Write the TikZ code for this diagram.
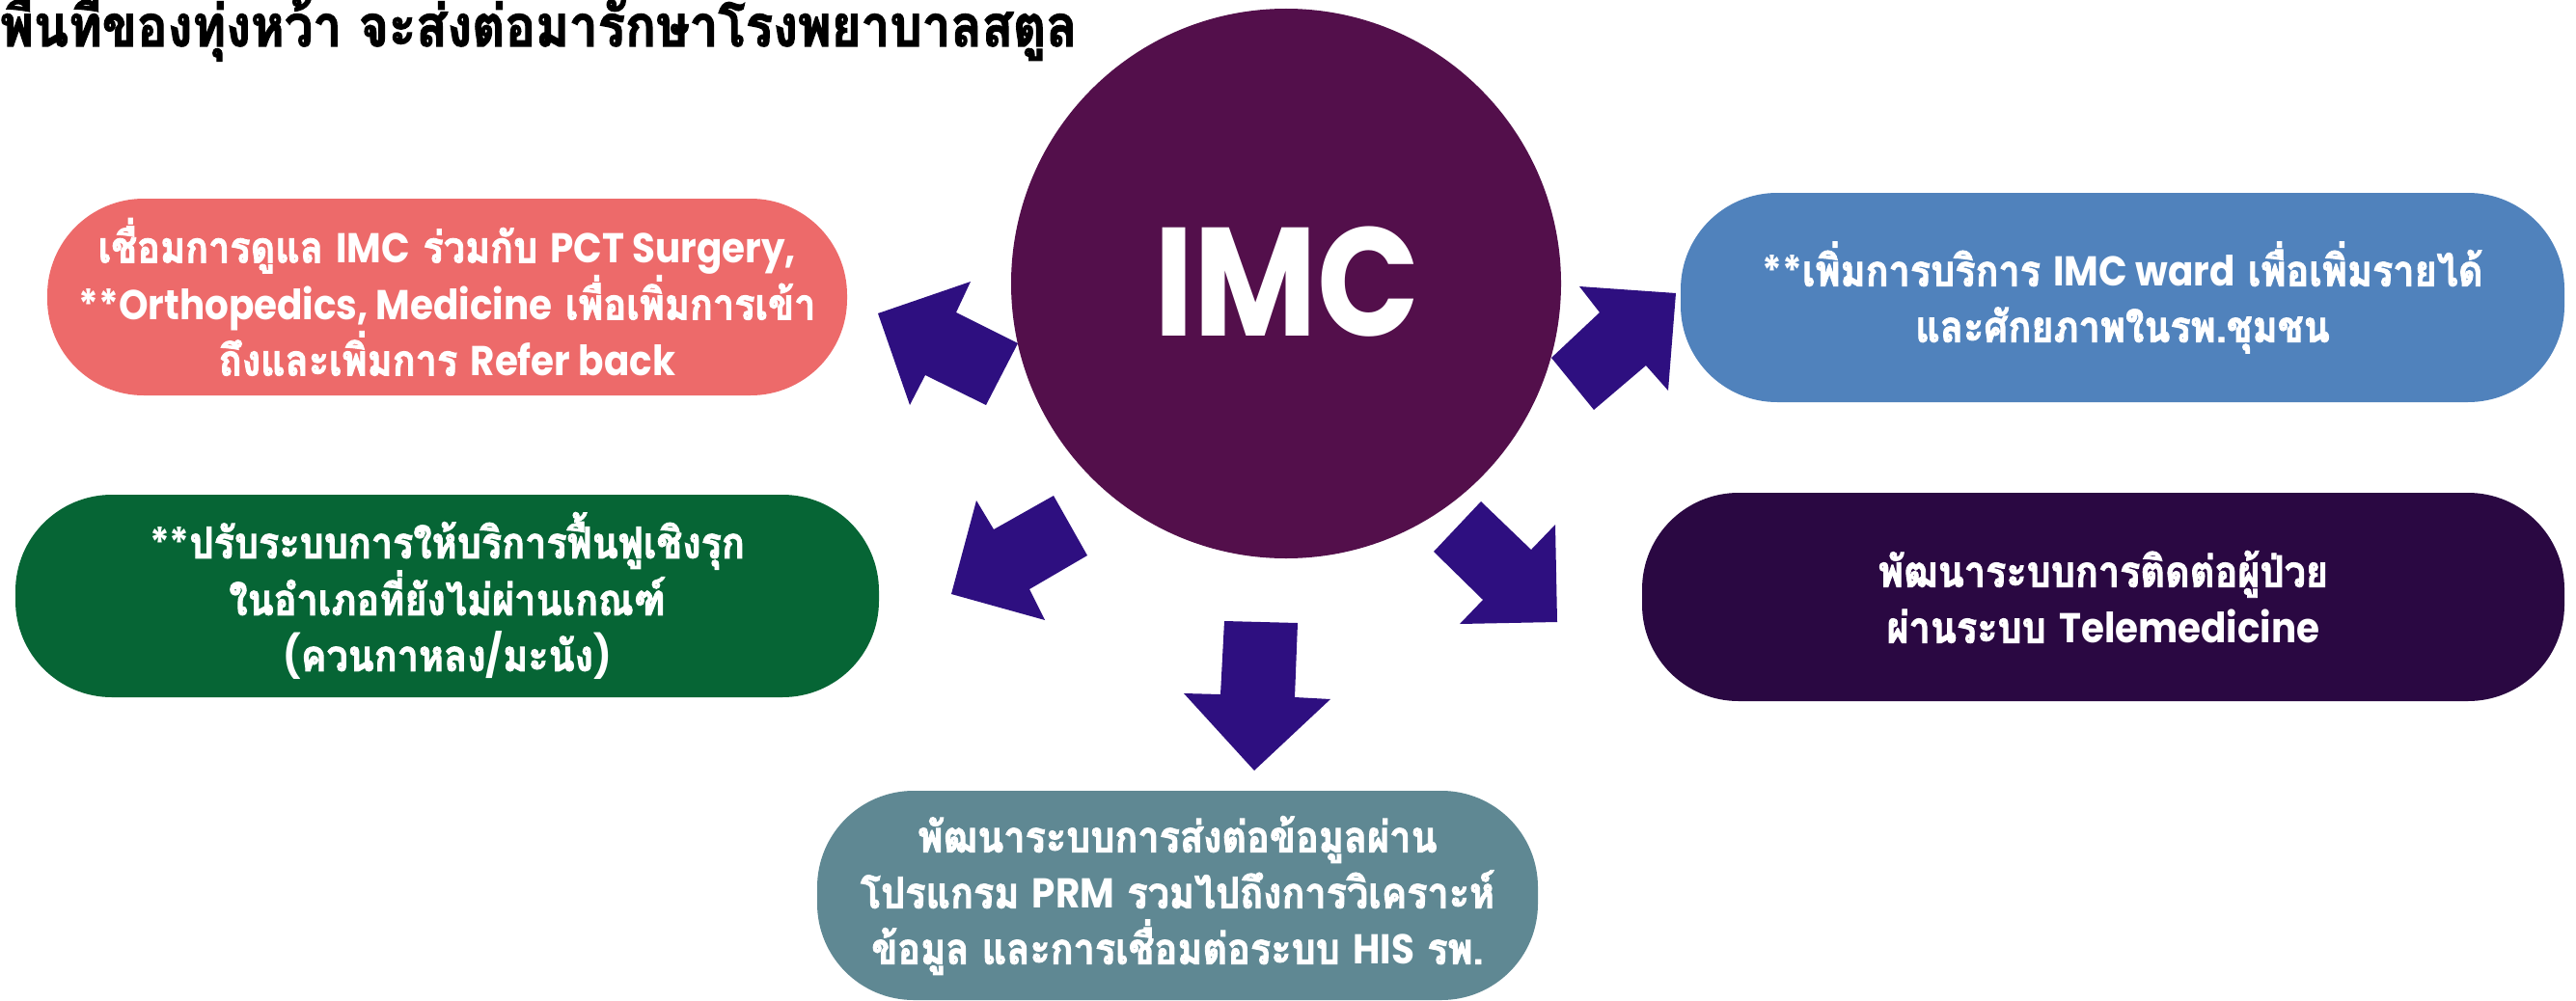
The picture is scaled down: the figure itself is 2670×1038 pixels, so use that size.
\documentclass[tikz,border=0pt]{standalone}
\usepackage{fontspec}
\setmainfont[Script=Thai, FakeStretch=0.88, BoldFeatures={FakeBold=2}]{Loma}
\newfontfamily\latf{Poppins}[UprightFont=* Bold, BoldFont=* Bold, Scale=0.96, FakeStretch=0.9]
\newfontfamily\imcf{Poppins}[UprightFont=* Bold, BoldFont=* Bold]
\newcommand\latn[1]{{\latf #1}}
\definecolor{circc}{RGB}{83,15,75}
\definecolor{arrc}{RGB}{46,15,128}
\definecolor{pinkc}{RGB}{237,106,106}
\definecolor{bluec}{RGB}{80,130,188}
\definecolor{greenc}{RGB}{6,101,53}
\definecolor{darkc}{RGB}{42,8,66}
\definecolor{tealc}{RGB}{95,136,147}
\begin{document}
\begin{tikzpicture}[x=1pt,y=-1pt,
  pill/.style={rectangle, rounded corners=100pt, inner sep=0pt, text=white, align=center,
    font=\bfseries\fontsize{45}{58}\selectfont},
  blockarrow/.style={fill=arrc}]
\path[use as bounding box, fill=white] (0,0) rectangle (2670,1038);

\node[anchor=base west, inner sep=0pt, font=\bfseries\fontsize{60}{64}\selectfont] (title) at (0,48)
  {พื้นที่ของทุ่งหว้า จะส่งต่อมารักษาโรงพยาบาลสตูล};

\node[circle, fill=circc, minimum size=570pt, inner sep=0pt] (imc) at (1333,294) {};
\node[text=white, font=\imcf\fontsize{160}{160}\selectfont, xscale=0.87, inner sep=0pt] (imct) at (1334,292) {IMC};

\node[pill, fill=pinkc, minimum width=829pt, minimum height=204pt] (pink) at (463.5,308)
  {เชื่อมการดูแล \latn{IMC} ร่วมกับ \latn{PCT Surgery,}\\ \latn{**Orthopedics, Medicine} เพื่อเพิ่มการเข้า\\ ถึงและเพิ่มการ \latn{Refer back}};
\node[pill, fill=bluec, minimum width=916pt, minimum height=217pt] (blue) at (2200,308.5)
  {\latn{**}เพิ่มการบริการ \latn{IMC ward} เพื่อเพิ่มรายได้\\ และศักยภาพในรพ.ชุมชน};
\node[pill, fill=greenc, minimum width=895pt, minimum height=210pt] (green) at (463.5,618)
  {\latn{**}ปรับระบบการให้บริการฟื้นฟูเชิงรุก\\ ในอำเภอที่ยังไม่ผ่านเกณฑ์\\ \latn{(}ควนกาหลง\latn{/}มะนัง\latn{)}};
\node[pill, fill=darkc, minimum width=956pt, minimum height=216pt] (dark) at (2180,619)
  {พัฒนาระบบการติดต่อผู้ป่วย\\ ผ่านระบบ \latn{Telemedicine}};
\node[pill, fill=tealc, minimum width=747pt, minimum height=217pt] (teal) at (1220.5,928.5)
  {พัฒนาระบบการส่งต่อข้อมูลผ่าน\\ โปรแกรม \latn{PRM} รวมไปถึงการวิเคราะห์\\ ข้อมูล และการเชื่อมต่อระบบ \latn{HIS} รพ.};

% block arrows
\fill[blockarrow] (910,325) -- (1006,292) -- (991,324) -- (1055,356) -- (1022,420) -- (959,389) -- (943,420) -- cycle;
\fill[blockarrow] (1608,371) -- (1658,324) -- (1637,297) -- (1737,304) -- (1729,405) -- (1706,379) -- (1652,425) -- cycle;
\fill[blockarrow] (1092,514) -- (1127,576) -- (1067,611) -- (1083,643) -- (986,616) -- (1012,519) -- (1030,549) -- cycle;
\fill[blockarrow] (1269,644) -- (1345,646) -- (1342,723) -- (1379,725) -- (1300,799) -- (1227,719) -- (1265,720) -- cycle;
\fill[blockarrow] (1535,520) -- (1486,572) -- (1537,622) -- (1513,647) -- (1614,645) -- (1612,544) -- (1587,570) -- cycle;
\end{tikzpicture}
\end{document}
